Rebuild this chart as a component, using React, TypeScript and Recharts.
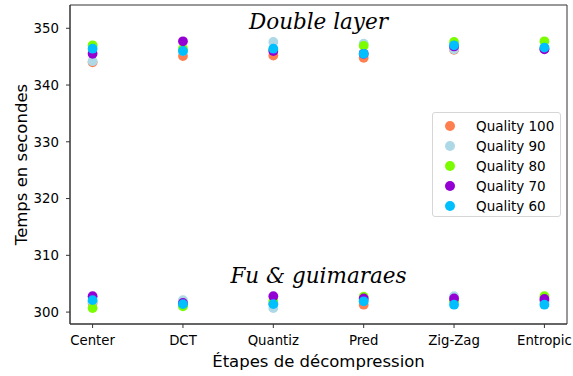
import React from 'react';
import {
	ScatterChart,
	Scatter,
	XAxis,
	YAxis,
	CartesianGrid,
	ReferenceDot,
} from 'recharts';

if (typeof document !== 'undefined') document.body.style.margin = '0';

const steps = ['Center', 'DCT', 'Quantiz', 'Pred', 'Zig-Zag', 'Entropic'];
const xTicks = [0, 1, 2, 3, 4, 5];
const yTicks = [300, 310, 320, 330, 340, 350];

// double layer values per quality
const dl100 = [344.0, 345.1, 345.2, 344.8, 346.2, 346.4];
const dl90 = [344.2, 346.0, 347.6, 347.3, 346.3, 346.5];
const dl80 = [347.0, 346.4, 346.2, 346.9, 347.6, 347.7];
const dl70 = [345.5, 347.7, 346.0, 345.5, 346.8, 346.3];
const dl60 = [346.4, 346.0, 346.4, 345.5, 347.0, 346.6];

// fu & guimaraes values per quality
const fg100 = [301.6, 301.3, 301.5, 301.3, 302.0, 302.0];
const fg90 = [301.8, 302.1, 300.7, 302.1, 302.8, 301.8];
const fg80 = [300.7, 301.0, 302.0, 302.7, 302.0, 302.8];
const fg70 = [302.8, 301.6, 302.8, 302.4, 302.4, 302.3];
const fg60 = [302.1, 301.4, 301.4, 301.9, 301.3, 301.3];

const series = [
	{ name: 'Quality 100', color: '#FF7F50', dl: dl100, fg: fg100 },
	{ name: 'Quality 90', color: '#ADD8E6', dl: dl90, fg: fg90 },
	{ name: 'Quality 80', color: '#7CFC00', dl: dl80, fg: fg80 },
	{ name: 'Quality 70', color: '#9400D3', dl: dl70, fg: fg70 },
	{ name: 'Quality 60', color: '#00BFFF', dl: dl60, fg: fg60 },
];

const toPoints = (dl: number[], fg: number[]) => [
	...dl.map((y, i) => ({ x: i, y })),
	...fg.map((y, i) => ({ x: i, y })),
];

const xDomain = [-0.25, 5.25];
const yDomain = [297.9, 354.1];

const font = 'DejaVu Sans, sans-serif';
const axisColor = '#333';

const LegendBox = () => (
	<div
		style={{
			position: 'absolute',
			left: 432,
			top: 112,
			width: 129,
			height: 105,
			border: '1px solid #d6d6d6',
			borderRadius: 3,
			background: 'rgba(255,255,255,0.8)',
			boxSizing: 'border-box',
			paddingTop: 3,
			fontFamily: font,
			fontSize: 13.5,
			color: '#000',
		}}
	>
		{series.map((s) => (
			<div key={s.name} style={{ display: 'flex', alignItems: 'center', height: 20 }}>
				<span
					style={{
						width: 10,
						height: 10,
						borderRadius: 5,
						background: s.color,
						marginLeft: 12,
						marginRight: 21,
					}}
				/>
				<span>{s.name}</span>
			</div>
		))}
	</div>
);

const Title = ({ viewBox, text }: any) => (
	<text
		x={viewBox.cx ?? viewBox.x}
		y={viewBox.cy ?? viewBox.y}
		textAnchor="middle"
		fontFamily="DejaVu Serif, serif"
		fontStyle="italic"
		fontSize={21.5}
		fill="#000"
	>
		{text}
	</text>
);

const XLabel = ({ viewBox }: any) => (
	<text
		x={viewBox.x + viewBox.width / 2}
		y={viewBox.y + viewBox.height - 9.5}
		textAnchor="middle"
		fontFamily={font}
		fontSize={16.5}
		fill="#000"
	>
		Étapes de décompression
	</text>
);

const YLabel = ({ viewBox }: any) => {
	const cy = viewBox.y + viewBox.height / 2;
	return (
		<text
			x={21.5}
			y={cy}
			transform={`rotate(-90 21.5 ${cy})`}
			textAnchor="middle"
			dominantBaseline="central"
			fontFamily={font}
			fontSize={16.5}
			fill="#000"
		>
			Temps en secondes
		</text>
	);
};

export default function App() {
	return (
		<div style={{ position: 'relative', width: 573, height: 376 }}>
			<ScatterChart
				width={573}
				height={376}
				margin={{ top: 5, right: 6, left: 0, bottom: 0 }}
				style={{ background: '#fff' }}
			>
				<CartesianGrid
					stroke={axisColor}
					horizontalCoordinatesGenerator={({ offset }: any) => [offset.top, offset.top + offset.height]}
					verticalCoordinatesGenerator={({ offset }: any) => [offset.left, offset.left + offset.width]}
				/>
				<XAxis
					type="number"
					dataKey="x"
					domain={xDomain}
					ticks={xTicks}
					tickFormatter={(v: number) => steps[v]}
					height={52}
					tickSize={4}
					tickMargin={8}
					axisLine={{ stroke: axisColor }}
					tickLine={{ stroke: axisColor }}
					tick={{ fill: '#000', fontSize: 13.3, fontFamily: font }}
					allowDataOverflow
					label={<XLabel />}
				/>
				<YAxis
					type="number"
					dataKey="y"
					domain={yDomain}
					ticks={yTicks}
					width={70}
					tickSize={4}
					tickMargin={7}
					axisLine={{ stroke: axisColor }}
					tickLine={{ stroke: axisColor }}
					tick={{ fill: '#000', fontSize: 13.3, fontFamily: font }}
					allowDataOverflow
					label={<YLabel />}
				/>
				{series.map((s) => (
					<Scatter
						key={s.name}
						name={s.name}
						data={toPoints(s.dl, s.fg)}
						fill={s.color}
						isAnimationActive={false}
						shape={(p: any) => <circle cx={p.cx} cy={p.cy} r={4.9} fill={s.color} />}
					/>
				))}
				<ReferenceDot
					x={2.5}
					y={349.9}
					r={0}
					fill="none"
					stroke="none"
					label={<Title text="Double layer" />}
				/>
				<ReferenceDot
					x={2.5}
					y={305.1}
					r={0}
					fill="none"
					stroke="none"
					label={<Title text="Fu & guimaraes" />}
				/>
			</ScatterChart>
			<LegendBox />
		</div>
	);
}
